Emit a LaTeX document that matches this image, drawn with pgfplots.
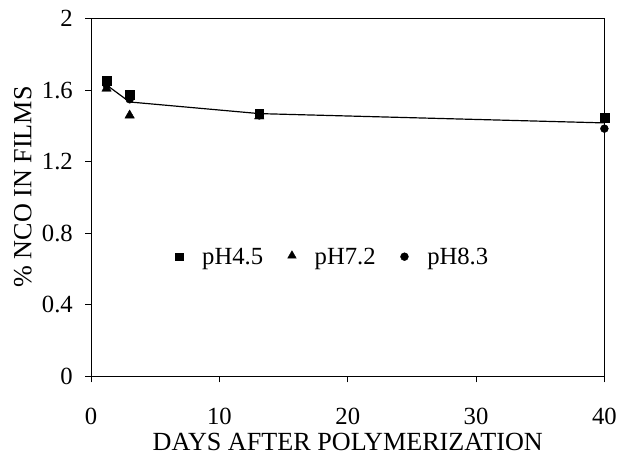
\documentclass[border=0pt]{standalone}
\usepackage{fontspec}
\setmainfont{Liberation Serif}
\usepackage{pgfplots}
\pgfplotsset{compat=1.18}
\begin{document}
\begin{tikzpicture}
\begin{axis}[
  name=ax,
  scale only axis,
  width=518bp, height=361bp,
  xmin=0, xmax=40, ymin=0, ymax=2,
  xtick={0,10,20,30,40},
  ytick={0,0.4,0.8,1.2,1.6,2},
  /pgf/number format/assume math mode=true,
  /pgf/number format/fixed,
  tick pos=left,
  tick align=outside,
  major tick length=6bp,
  axis line style={line width=1.1bp},
  tick style={line width=1bp, black},
  ticklabel style={font=\fontsize{25}{30}\selectfont},
  xticklabel style={yshift=-22bp},
  yticklabel style={xshift=-9bp},
  label style={font=\fontsize{26.5}{31}\selectfont},
  xlabel={DAYS AFTER POLYMERIZATION},
  ylabel={\% NCO IN FILMS},
  xlabel style={at={(axis description cs:0.5,-0.183)}, anchor=center, inner sep=0pt},
  ylabel style={at={(axis description cs:-0.133,0.53)}, anchor=center},
  clip=false,
  legend columns=3,
  legend style={draw=none, fill=none, at={(axis description cs:0.47,0.335)}, anchor=center,
    font=\fontsize{25}{30}\selectfont,
    /tikz/every even column/.append style={column sep=22bp}},
  legend cell align=left,
]
\addlegendimage{legend image code/.code={\path[draw=none] (0bp,0bp) -- (26bp,0bp); \draw[mark=square*, mark size=3.8bp, black] plot coordinates {(5bp,0bp)};}}
\addlegendentry{pH4.5}
\addlegendimage{legend image code/.code={\path[draw=none] (0bp,0bp) -- (26bp,0bp); \draw[mark=triangle*, mark size=5bp, black] plot coordinates {(5bp,1bp)};}}
\addlegendentry{pH7.2}
\addlegendimage{legend image code/.code={\path[draw=none] (0bp,0bp) -- (26bp,0bp); \draw[mark=*, mark size=4bp, black] plot coordinates {(5bp,0bp)};}}
\addlegendentry{pH8.3}
\addplot[black, line width=1.2bp, forget plot] coordinates {(1.2,1.63) (3.0,1.535) (13.1,1.47) (40,1.418)};
\addplot[only marks, mark=triangle*, mark size=5.5bp, black, forget plot]
  coordinates {(1.2,1.61) (3.0,1.46) (13.1,1.455)};
\addplot[only marks, mark=*, mark size=4bp, black, forget plot]
  coordinates {(1.2,1.63) (3.0,1.55) (13.1,1.46) (40,1.386)};
\addplot[only marks, mark=square*, mark size=4.5bp, black, forget plot]
  coordinates {(1.2,1.655) (3.0,1.575) (13.1,1.47) (40,1.445)};
\end{axis}
\path[use as bounding box] ([xshift=-92bp,yshift=-79bp]ax.south west) rectangle ([xshift=10bp,yshift=19bp]ax.north east);
\end{tikzpicture}
\end{document}
